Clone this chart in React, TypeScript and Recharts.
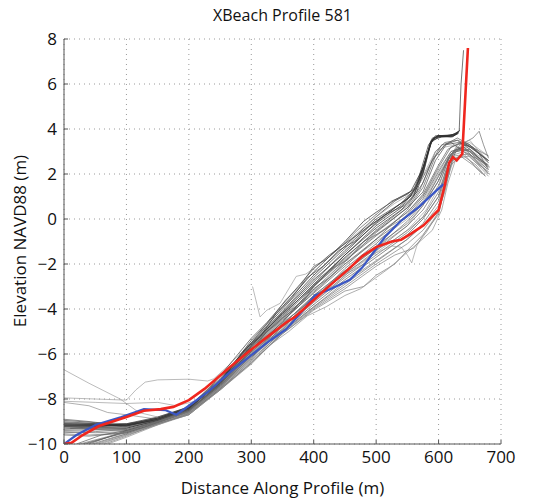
import { LineChart, Line, XAxis, YAxis, CartesianGrid } from "recharts";

type Pt = [number, number];

const xTicks = [0, 100, 200, 300, 400, 500, 600, 700];
const yTicks = [-10, -8, -6, -4, -2, 0, 2, 4, 6, 8];

// measured profile (red) and modelled/reference profile (blue)
const redProfile: Pt[] = [
  [0, -10], [12, -9.95], [30, -9.6], [56, -9.2], [100, -8.8], [128, -8.52], [155, -8.45],
  [175, -8.35], [200, -8.05], [225, -7.55], [240, -7.2], [265, -6.6], [300, -5.8], [330, -5.15],
  [356, -4.6], [370, -4.35], [400, -3.6], [430, -2.85], [455, -2.25], [478, -1.65], [500, -1.25],
  [525, -1.0], [540, -0.92], [556, -0.65], [576, -0.28], [600, 0.4], [610, 1.5], [617, 2.5],
  [623, 2.75], [629, 2.6], [638, 2.9], [647, 7.6],
];

const blueProfile: Pt[] = [
  [0, -10], [20, -9.6], [51, -9.15], [92, -8.8], [128, -8.45], [163, -8.5], [180, -8.7],
  [200, -8.3], [230, -7.7], [264, -6.85], [300, -6.05], [330, -5.4], [356, -4.9], [380, -4.15],
  [402, -3.4], [428, -3.1], [458, -2.7], [478, -2.15], [498, -1.4], [514, -0.8], [539, -0.1],
  [569, 0.55], [596, 1.25], [608, 1.55],
];

// historical survey profiles (thin grey)
const grayProfiles: Pt[][] = [
  [[0, -6.7], [40, -7.3], [90, -8.0], [120, -8.6], [150, -8.8], [200, -8.4], [250, -7.3], [300, -5.7], [350, -4.4], [400, -3.2], [450, -2.0], [500, -1.0], [550, 0.0], [575, 0.8], [600, 2.0], [620, 2.9], [640, 3.1], [660, 2.6], [675, 2.2]],
  [[0, -7.95], [50, -8.0], [100, -8.05], [115, -7.6], [130, -7.25], [150, -7.15], [200, -7.12], [230, -7.2], [240, -7.1], [264, -6.5], [300, -5.5], [350, -4.2], [400, -3.0], [450, -1.8], [500, -0.7], [550, 0.3], [580, 1.2], [600, 2.2], [620, 3.0], [645, 3.2], [665, 2.8], [680, 2.5]],
  [[0, -8.1], [50, -8.15], [100, -8.2], [150, -8.15], [180, -8.3], [210, -8.1], [250, -7.2], [300, -5.9], [350, -4.8], [400, -3.6], [450, -2.4], [500, -1.5], [550, -0.5], [580, 0.4], [600, 1.4], [615, 2.6], [630, 3.3], [650, 3.4], [670, 3.0], [680, 2.8]],
  [[0, -8.15], [40, -8.3], [70, -8.6], [100, -8.7], [150, -8.9], [200, -8.5], [250, -7.4], [300, -6.0], [350, -4.7], [400, -3.4], [450, -2.3], [500, -1.3], [550, -0.3], [575, 0.6], [600, 1.9], [620, 2.8], [640, 3.0], [660, 2.5], [680, 2.1]],
  [[0, -9.15], [50, -9.15], [100, -9.15], [150, -8.95], [200, -8.5], [250, -7.35], [300, -5.8], [350, -4.6], [400, -3.0], [450, -1.6], [500, -0.4], [540, 0.4], [560, 1.0], [575, 2.1], [588, 3.4], [595, 3.7], [615, 3.7], [628, 3.75], [634, 3.95]],
  [[0, -9.1], [50, -9.12], [100, -9.18], [150, -8.9], [200, -8.45], [250, -7.2], [300, -5.6], [350, -4.2], [400, -2.8], [450, -1.4], [500, -0.2], [540, 0.6], [562, 1.3], [577, 2.4], [588, 3.5], [600, 3.7], [622, 3.65], [632, 3.85]],
  [[0, -9.2], [60, -9.2], [100, -9.1], [150, -8.8], [200, -8.35], [250, -7.1], [300, -5.5], [350, -4.0], [400, -2.5], [450, -1.2], [500, 0.1], [530, 0.8], [555, 1.2], [570, 2.0], [584, 3.3], [592, 3.6], [612, 3.7], [630, 3.8]],
  [[0, -8.9], [40, -9.0], [100, -9.2], [150, -8.95], [200, -8.5], [250, -7.3], [300, -5.9], [325, -5.0], [350, -4.4], [375, -3.9], [400, -3.1], [425, -2.6], [450, -1.9], [500, -0.6], [550, 0.5], [570, 1.3], [590, 2.6], [605, 3.3], [620, 3.4], [640, 3.0], [660, 2.7], [678, 2.4]],
  [[0, -9.0], [50, -9.1], [100, -9.25], [150, -9.0], [200, -8.55], [250, -7.45], [300, -6.1], [350, -4.9], [400, -3.7], [450, -2.6], [500, -1.6], [550, -0.6], [575, 0.1], [600, 1.2], [615, 2.4], [625, 3.0], [645, 3.3], [665, 2.9], [680, 2.2]],
  [[0, -9.3], [50, -9.35], [100, -9.4], [150, -9.05], [200, -8.6], [250, -7.5], [300, -6.2], [325, -5.4], [350, -4.9], [375, -4.1], [400, -3.5], [425, -2.9], [450, -2.2], [500, -1.1], [550, 0.2], [575, 1.0], [600, 2.3], [620, 3.2], [640, 3.4], [660, 3.0], [680, 2.6]],
  [[0, -9.45], [50, -9.5], [100, -9.45], [150, -9.1], [200, -8.65], [250, -7.55], [300, -6.3], [350, -5.0], [400, -3.9], [450, -2.9], [500, -1.9], [550, -0.9], [575, -0.2], [600, 0.8], [612, 2.0], [622, 2.9], [640, 3.2], [660, 2.6], [680, 2.0]],
  [[0, -9.55], [40, -9.6], [100, -9.5], [150, -9.1], [200, -8.7], [250, -7.6], [300, -6.4], [350, -5.1], [400, -4.0], [450, -3.1], [500, -2.1], [530, -1.6], [560, -1.3], [580, -0.6], [600, 0.3], [612, 1.8], [625, 2.8], [650, 2.9], [670, 2.3], [680, 2.0]],
  [[35, -10], [70, -9.7], [100, -9.5], [150, -9.05], [200, -8.6], [250, -7.5], [300, -6.15], [350, -4.95], [400, -3.8], [450, -2.7], [500, -1.7], [550, -0.7], [575, 0.0], [600, 1.0], [615, 2.3], [628, 3.0], [650, 3.1], [670, 2.6], [682, 2.3]],
  [[45, -10], [80, -9.7], [100, -9.55], [150, -9.1], [200, -8.6], [250, -7.45], [300, -6.05], [350, -4.7], [400, -3.4], [450, -2.3], [500, -1.2], [550, -0.2], [575, 0.6], [600, 1.7], [618, 2.8], [635, 3.3], [655, 3.6], [665, 3.9], [672, 3.3], [680, 2.7]],
  [[55, -10], [100, -9.6], [150, -9.15], [200, -8.65], [250, -7.55], [300, -6.25], [350, -5.0], [400, -3.9], [450, -2.8], [500, -1.85], [550, -0.9], [575, -0.3], [600, 0.6], [612, 1.8], [622, 2.6], [640, 2.8], [660, 2.4], [675, 1.9]],
  [[40, -10], [100, -9.4], [150, -9.0], [200, -8.5], [250, -7.4], [300, -5.95], [350, -4.55], [400, -3.25], [450, -2.0], [500, -0.9], [550, 0.1], [575, 0.9], [600, 2.1], [620, 3.0], [640, 3.2], [660, 2.8], [680, 2.4]],
  [[0, -9.15], [60, -9.18], [100, -9.2], [150, -8.9], [200, -8.4], [250, -7.25], [300, -5.7], [350, -4.3], [400, -2.9], [450, -1.6], [500, -0.3], [540, 0.5], [565, 1.4], [580, 2.7], [590, 3.5], [605, 3.65], [625, 3.7], [633, 3.9]],
  [[0, -9.2], [60, -9.22], [100, -9.15], [150, -8.85], [200, -8.4], [250, -7.2], [300, -5.65], [350, -4.15], [400, -2.7], [450, -1.5], [500, -0.15], [535, 0.6], [560, 1.1], [575, 2.0], [587, 3.4], [598, 3.7], [618, 3.7], [631, 3.85]],
  [[0, -9.35], [50, -9.3], [100, -9.3], [150, -8.95], [200, -8.45], [250, -7.35], [300, -5.85], [350, -4.5], [400, -3.3], [450, -2.1], [500, -0.9], [550, 0.4], [575, 1.4], [595, 2.8], [610, 3.3], [630, 3.5], [650, 3.3], [670, 2.8], [680, 2.5]],
  [[0, -9.5], [50, -9.45], [100, -9.35], [150, -9.0], [200, -8.5], [250, -7.4], [300, -6.0], [350, -4.65], [400, -3.5], [450, -2.45], [500, -1.4], [550, -0.3], [575, 0.4], [600, 1.5], [617, 2.7], [632, 3.1], [652, 3.0], [672, 2.5], [680, 2.3]],
  [[30, -10], [70, -9.7], [100, -9.45], [150, -9.0], [200, -8.55], [250, -7.3], [300, -5.75], [350, -4.35], [400, -3.0], [450, -1.75], [500, -0.5], [550, 0.6], [575, 1.6], [595, 3.0], [610, 3.4], [630, 3.5], [650, 3.1], [665, 2.7], [678, 2.3]],
  [[50, -10], [100, -9.55], [150, -9.1], [200, -8.6], [250, -7.6], [300, -6.35], [350, -5.1], [400, -4.05], [450, -3.2], [480, -3.0], [500, -2.5], [530, -2.0], [550, -1.4], [575, -0.7], [600, 0.2], [610, 1.4], [622, 2.6], [640, 2.9], [660, 2.3], [675, 1.9]],
  [[60, -10], [100, -9.6], [150, -9.1], [200, -8.6], [250, -7.5], [300, -6.2], [350, -4.9], [400, -3.7], [450, -2.5], [500, -1.5], [525, -1.2], [540, -1.25], [550, -1.6], [557, -1.95], [565, -1.2], [580, -0.5], [600, 0.3], [612, 1.6], [625, 2.7], [645, 2.9], [665, 2.4], [680, 2.1]],
  [[302, -3.0], [314, -4.35], [325, -4.05], [346, -3.75], [372, -2.55], [387, -2.45], [400, -2.2], [450, -1.1], [500, 0.1], [530, 0.7], [560, 1.2], [580, 2.2], [595, 3.0], [610, 3.2], [630, 3.3], [650, 3.5], [665, 3.0], [680, 2.6]],
  [[0, -9.1], [60, -9.15], [100, -9.12], [150, -8.85], [200, -8.38], [250, -7.15], [300, -5.55], [350, -4.1], [400, -2.6], [450, -1.3], [500, 0.0], [540, 0.7], [563, 1.35], [578, 2.5], [590, 3.6], [600, 3.7], [625, 3.75], [633, 3.9], [636, 6.0], [640, 7.5]],
  [[0, -9.25], [50, -9.28], [100, -9.3], [150, -8.95], [200, -8.45], [250, -7.2], [300, -5.4], [350, -3.9], [400, -2.35], [450, -1.0], [480, -0.1], [500, 0.3], [530, 0.85], [560, 1.3], [575, 2.3], [588, 3.4], [600, 3.65], [620, 3.65], [632, 3.8]],
  [[0, -9.6], [40, -9.65], [100, -9.5], [150, -9.05], [200, -8.55], [250, -7.4], [300, -6.1], [350, -4.8], [400, -3.6], [450, -2.35], [500, -1.3], [550, -0.1], [575, 0.7], [600, 1.9], [620, 2.9], [640, 3.3], [660, 3.1], [680, 2.8]],
  [[20, -10], [60, -9.6], [100, -9.4], [150, -9.0], [200, -8.5], [250, -7.35], [300, -5.8], [350, -4.45], [400, -3.15], [450, -1.85], [500, -0.75], [550, 0.3], [575, 1.1], [600, 2.4], [615, 3.1], [635, 3.4], [655, 3.2], [675, 2.7]],
  [[65, -10], [100, -9.65], [150, -9.1], [200, -8.7], [250, -7.55], [300, -6.4], [350, -5.05], [400, -3.95], [450, -3.0], [500, -2.0], [550, -1.1], [575, -0.5], [600, 0.4], [610, 1.2], [620, 2.4], [635, 2.8], [655, 2.4], [670, 2.0]],
  [[0, -8.95], [50, -9.05], [100, -9.1], [150, -8.9], [200, -8.4], [250, -7.3], [300, -5.65], [350, -4.25], [400, -2.95], [450, -1.7], [500, -0.55], [550, 0.5], [575, 1.2], [595, 2.6], [612, 3.3], [632, 3.4], [652, 3.2], [670, 2.8], [680, 2.6]],
  [[0, -9.05], [60, -9.1], [100, -9.15], [150, -8.85], [200, -8.35], [240, -7.3], [270, -6.3], [300, -5.3], [325, -4.6], [350, -3.8], [375, -3.0], [400, -2.2], [425, -1.6], [450, -1.1], [475, -0.6], [500, -0.1], [530, 0.5], [555, 1.0], [572, 1.9], [586, 3.3], [596, 3.65], [620, 3.7], [632, 3.9]],
  [[10, -9.3], [100, -9.25], [150, -8.95], [200, -8.45], [250, -7.2], [280, -6.2], [300, -5.5], [330, -4.5], [355, -3.6], [380, -2.9], [400, -2.1], [420, -1.8], [445, -1.2], [470, -0.5], [500, 0.2], [525, 0.8], [550, 1.1], [570, 1.6], [590, 2.6], [610, 3.3], [630, 3.6], [650, 3.3], [668, 2.8], [680, 2.6]],
  [[0, -9.4], [100, -9.35], [150, -9.0], [200, -8.5], [250, -7.35], [300, -5.9], [320, -5.1], [340, -4.7], [360, -4.1], [385, -3.6], [410, -2.6], [430, -2.2], [455, -1.8], [480, -1.0], [500, -0.7], [530, -0.2], [560, 0.3], [580, 0.8], [600, 1.7], [615, 2.7], [630, 3.2], [650, 3.0], [670, 2.4], [680, 2.2]],
  [[25, -10], [100, -9.45], [150, -9.0], [200, -8.55], [250, -7.45], [300, -6.05], [330, -5.4], [355, -4.5], [380, -4.0], [405, -3.3], [430, -3.0], [455, -2.4], [480, -2.0], [505, -1.3], [530, -0.9], [555, -0.4], [580, 0.2], [600, 1.0], [612, 2.2], [625, 3.0], [645, 3.1], [662, 2.7], [678, 2.2]],
  [[0, -9.2], [100, -9.2], [150, -8.9], [200, -8.4], [250, -7.25], [290, -5.8], [315, -5.2], [340, -4.2], [365, -3.5], [390, -2.6], [415, -2.1], [440, -1.4], [465, -1.0], [490, -0.3], [515, 0.2], [545, 0.6], [565, 1.2], [578, 2.3], [589, 3.5], [600, 3.7], [624, 3.7], [632, 3.9]],
  [[70, -10], [100, -9.7], [150, -9.15], [200, -8.7], [250, -7.6], [300, -6.45], [330, -5.6], [360, -5.0], [390, -4.3], [420, -3.9], [450, -3.4], [475, -3.1], [500, -2.6], [520, -2.2], [545, -1.6], [570, -1.0], [590, -0.5], [605, 0.4], [615, 1.6], [628, 2.7], [650, 2.8], [670, 2.2], [680, 1.9]],
];

// line tone for each grey profile
const grayShade = [
  "#999", "#999", "#999", "#888", "#222", "#222", "#222", "#555", "#666", "#555",
  "#666", "#777", "#555", "#666", "#777", "#555", "#222", "#222", "#555", "#666",
  "#555", "#777", "#999", "#999", "#333", "#222", "#666", "#555", "#777", "#444",
  "#333", "#555", "#666", "#777", "#333", "#888",
];

const rows = (pts: Pt[]) => pts.map(([x, y]) => ({ x, y }));
const fmt = (v: number) => String(v).replace("-", "\u2212");

const font = '"Open Sans", "DejaVu Sans", sans-serif';

export default function App() {
  return (
    <div style={{ position: "absolute", left: 0, top: 0, width: 548, height: 502, background: "#fff", fontFamily: font, color: "#111" }}>
      <div style={{ position: "absolute", left: 64, width: 437, top: 4, textAlign: "center", fontSize: 16 }}>
        XBeach Profile 581
      </div>
      <div
        style={{
          position: "absolute",
          left: 19,
          top: 241,
          transform: "translate(-50%, -50%) rotate(-90deg)",
          whiteSpace: "nowrap",
          fontSize: 17,
        }}
      >
        Elevation NAVD88 (m)
      </div>
      <div style={{ position: "absolute", left: 64, width: 437, top: 476, textAlign: "center", fontSize: 17 }}>
        Distance Along Profile (m)
      </div>
      <LineChart width={548} height={502} margin={{ top: 39, right: 47, bottom: 0, left: 0 }}>
        <CartesianGrid stroke="#9a9a9a" strokeDasharray="1 4" />
        <XAxis
          type="number"
          dataKey="x"
          domain={[0, 700]}
          ticks={xTicks}
          height={58}
          axisLine={{ stroke: "#555" }}
          tickLine={{ stroke: "#555" }}
          tickSize={-4}
          tickMargin={11}
          tick={{ fill: "#111", fontSize: 17, fontFamily: font }}
          allowDataOverflow
        />
        <YAxis
          type="number"
          domain={[-10, 8]}
          ticks={yTicks}
          width={64}
          axisLine={{ stroke: "#555" }}
          tickLine={{ stroke: "#555" }}
          tickSize={-4}
          tickMargin={11}
          tickFormatter={fmt}
          tick={{ fill: "#111", fontSize: 17, fontFamily: font }}
          allowDataOverflow
        />
        {grayProfiles.map((p, i) => (
          <Line
            key={`g${i}`}
            data={rows(p)}
            dataKey="y"
            stroke={grayShade[i]}
            strokeOpacity={0.75}
            strokeWidth={0.9}
            dot={false}
            activeDot={false}
            isAnimationActive={false}
          />
        ))}
        <Line data={rows(blueProfile)} dataKey="y" stroke="#3b57c4" strokeWidth={2.2} dot={false} activeDot={false} isAnimationActive={false} />
        <Line data={rows(redProfile)} dataKey="y" stroke="#f0261e" strokeWidth={2.6} dot={false} activeDot={false} isAnimationActive={false} />
      </LineChart>
    </div>
  );
}
